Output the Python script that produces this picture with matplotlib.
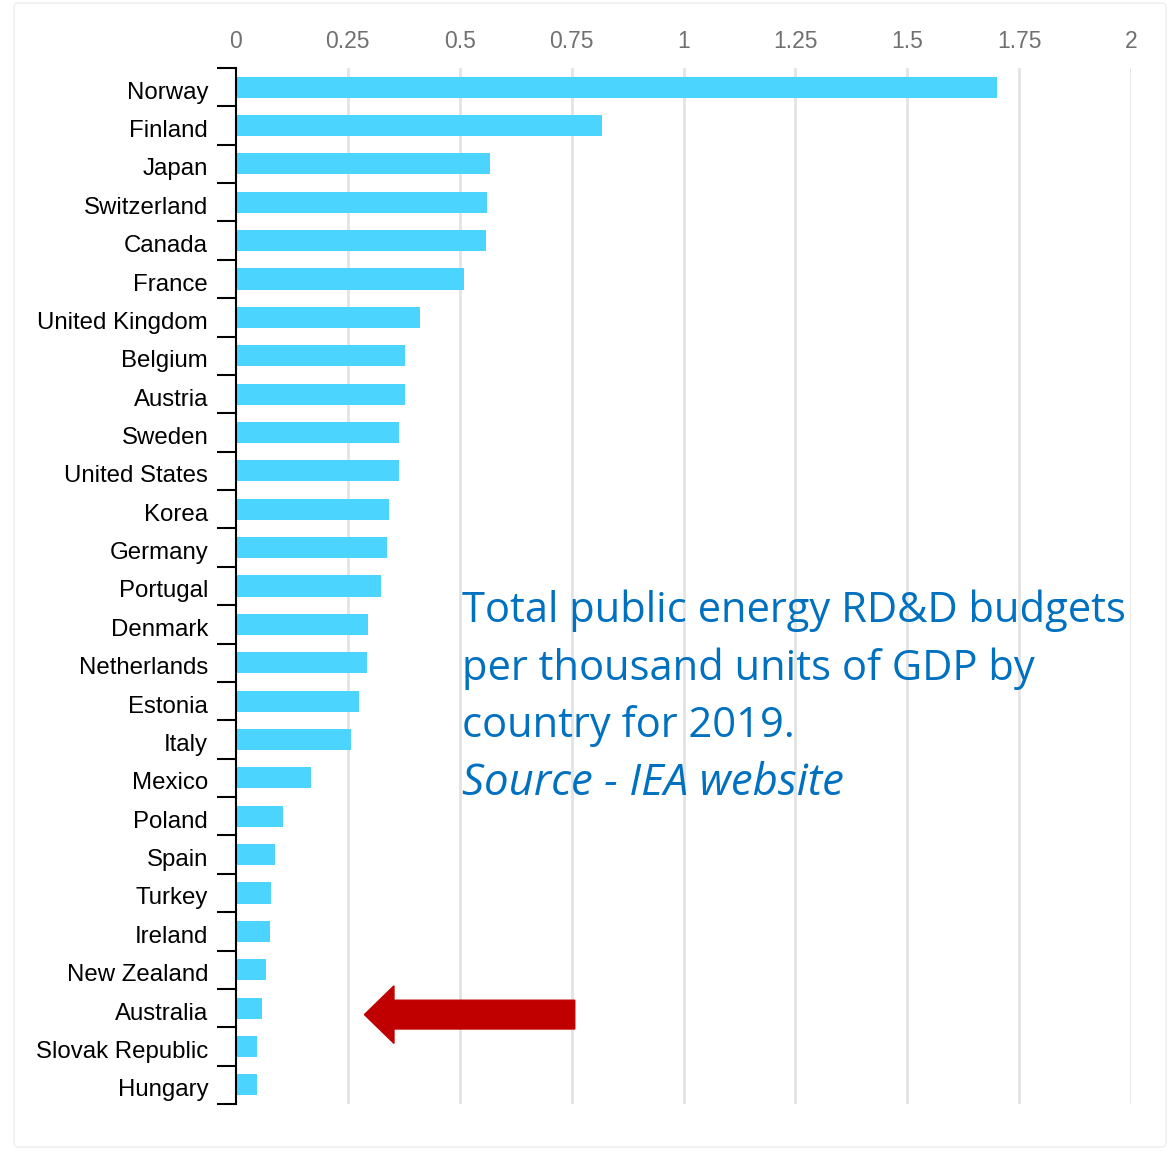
import matplotlib
matplotlib.use("Agg")
import matplotlib.pyplot as plt
from matplotlib.patches import FancyArrow, FancyBboxPatch
from matplotlib.transforms import ScaledTranslation
import numpy as np

countries = ["Norway", "Finland", "Japan", "Switzerland", "Canada", "France",
             "United Kingdom", "Belgium", "Austria", "Sweden", "United States",
             "Korea", "Germany", "Portugal", "Denmark", "Netherlands", "Estonia",
             "Italy", "Mexico", "Poland", "Spain", "Turkey", "Ireland",
             "New Zealand", "Australia", "Slovak Republic", "Hungary"]
values = [1.70, 0.818, 0.567, 0.562, 0.558, 0.51, 0.412, 0.377, 0.377, 0.364,
          0.364, 0.343, 0.338, 0.325, 0.296, 0.292, 0.274, 0.257, 0.167, 0.106,
          0.088, 0.079, 0.075, 0.066, 0.058, 0.046, 0.046]
xticks = [0, 0.25, 0.5, 0.75, 1, 1.25, 1.5, 1.75, 2]
xticklabels = ["0", "0.25", "0.5", "0.75", "1", "1.25", "1.5", "1.75", "2"]

W, H = 1171, 1153
fig = plt.figure(figsize=(W / 100, H / 100), dpi=100)
fig.patch.set_facecolor("white")

# faint border
fig.patches.append(FancyBboxPatch((14 / W, 6 / H), (1166 - 14) / W, (1150 - 6) / H,
                                  boxstyle="round,pad=0,rounding_size=0.004",
                                  transform=fig.transFigure, fill=False,
                                  edgecolor="#F0F0F0", linewidth=1.2))

left, right, top, bottom = 236, 1131, 68, 1104
ax = fig.add_axes([left / W, 1 - bottom / H, (right - left) / W, (bottom - top) / H])

n = len(countries)
y = np.arange(n)
ax.barh(y, values, height=0.55, color="#4AD4FE", zorder=3)
ax.set_ylim(n - 0.5, -0.5)
ax.set_xlim(0, 2)

for t in xticks[1:]:
    ax.axvline(t, color="#E3E3E3", linewidth=2, zorder=1)

ax.xaxis.tick_top()
ax.set_xticks(xticks)
ax.set_xticklabels(xticklabels, fontsize=16.5, color="#707070", family="Liberation Sans")
ax.tick_params(axis="x", length=0, pad=11)

ax.set_yticks(y)
ax.set_yticklabels(countries, fontsize=17.3, color="black", family="Liberation Sans")
ax.tick_params(axis="y", which="major", length=0, pad=20)
shift = ScaledTranslation(0, -3 / 100, fig.dpi_scale_trans)
for lbl in ax.get_yticklabels():
    lbl.set_verticalalignment("center_baseline")
    lbl.set_transform(lbl.get_transform() + shift)
ax.set_yticks(np.arange(n + 1) - 0.5, minor=True)
ax.tick_params(axis="y", which="minor", length=14, width=1.5, color="black")

for s in ["top", "right", "bottom"]:
    ax.spines[s].set_visible(False)
ax.spines["left"].set_linewidth(1.5)
ax.spines["left"].set_zorder(4)

# annotation text
lines = ["Total public energy RD&D budgets", "per thousand units of GDP by",
         "country for 2019."]
baselines = [622, 680, 737]
for txt, b in zip(lines, baselines):
    fig.text(462 / W, 1 - b / H, txt, fontsize=30, color="#0070C0",
             family="Open Sans", va="baseline")
fig.text(462 / W, 1 - 795 / H, "Source - IEA website", fontsize=31.5, color="#0070C0",
         family="Open Sans", style="italic", va="baseline")

# red arrow pointing at Australia
ai = countries.index("Australia")
tail_x, tip_x = 0.757, 0.287
ax.add_patch(FancyArrow(tail_x, ai + 0.17, tip_x - tail_x, 0, width=0.75,
                        head_width=1.5, head_length=0.066,
                        length_includes_head=True, color="#C00000", zorder=5,
                        clip_on=False))

fig.savefig("out.png", dpi=100, facecolor="white")
